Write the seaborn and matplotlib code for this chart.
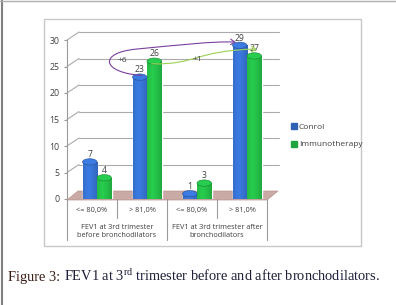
import numpy as np
import pandas as pd
import matplotlib
matplotlib.use("Agg")
import matplotlib.pyplot as plt
import seaborn as sns
from matplotlib.patches import Rectangle, Polygon, FancyArrowPatch, Ellipse
from matplotlib.path import Path
from matplotlib.lines import Line2D
import matplotlib.transforms as mtransforms

# ---- data ----
categories = ["<= 80,0%", "> 81,0%", "<= 80,0%_", "> 81,0%_"]
cat_labels = ["<= 80,0%", "> 81,0%", "<= 80,0%", "> 81,0%"]
group_labels = ["FEV1 at 3rd trimester\nbefore bronchodilators",
                "FEV1 at 3rd trimester after\nbronchodilators"]
series_names = ["Conrol", "Immunotherapy"]
control = [7, 23, 1, 29]
immuno = [4, 26, 3, 27]
yticks = [0, 5, 10, 15, 20, 25, 30]

sns.set_theme(style="white")
plt.rcParams["font.family"] = ["Open Sans", "DejaVu Sans"]
plt.rcParams["mathtext.fontset"] = "custom"
plt.rcParams["mathtext.rm"] = "Liberation Serif"

df = pd.DataFrame({
    "cat": categories * 2,
    "series": [series_names[0]] * 4 + [series_names[1]] * 4,
    "value": control + immuno,
})

W, H = 396, 305
fig = plt.figure(figsize=(W / 100, H / 100), dpi=100)

# outer page frame
fig.add_artist(Line2D([1.5 / W, 1.5 / W], [0, 1], color="#808080", lw=1.5, transform=fig.transFigure))
fig.add_artist(Line2D([0, 1], [1 - 0.8 / H, 1 - 0.8 / H], color="#b0b0b0", lw=1, transform=fig.transFigure))

# chart box
fig.add_artist(Rectangle((44 / W, 1 - 246 / H), 317 / W, 227 / H, transform=fig.transFigure,
                         facecolor="white", edgecolor="#c8c8c8", lw=1, zorder=0))

ax = fig.add_axes([67 / W, 1 - 199 / H, 200 / W, 159 / H])
ax.set_facecolor("none")

blue = "#2f62b5"
green = "#1fa43e"
sns.barplot(data=df, x="cat", y="value", hue="series", order=categories,
            hue_order=series_names, palette=[blue, green], width=0.58,
            dodge=True, gap=0.0, ax=ax, legend=False, saturation=1, zorder=3)

XL = (-0.6, 3.4)
ax.set_xlim(*XL)
ax.set_ylim(0, 30)
ax.set_xlabel("")
ax.set_ylabel("")
for s in ["top", "right", "bottom"]:
    ax.spines[s].set_visible(False)
ax.spines["left"].set_color("#9a9a9a")
ax.spines["left"].set_linewidth(0.8)
ax.set_xticks([])
ax.set_yticks(yticks)
ax.tick_params(axis="y", length=2.5, width=0.8, color="#9a9a9a", pad=3,
               labelsize=6.3, labelcolor="#404040", left=True)

# back wall grid (3D offset)
off = mtransforms.ScaledTranslation(12 / 100, 8 / 100, fig.dpi_scale_trans)
inv = ax.transData.inverted()
for v in yticks[1:]:
    ax.plot(list(XL), [v, v], color="#ababab", lw=0.8, transform=ax.transData + off,
            clip_on=False, zorder=1)
    p0 = ax.transData.transform((XL[0], v))
    p1 = p0 + np.array([12, 8])
    q0, q1 = inv.transform(p0), inv.transform(p1)
    ax.plot([q0[0], q1[0]], [q0[1], q1[1]], color="#ababab", lw=0.8, clip_on=False, zorder=1)

# floor
pts = [ax.transData.transform(p) for p in [(XL[0], 0), (XL[1], 0)]]
back = [inv.transform(p + np.array([11, 8])) for p in pts[::-1]]
front = [inv.transform(p + np.array([0, -1])) for p in pts]
floor = Polygon(list(front) + list(back), closed=True, facecolor="#c9aaa5", edgecolor="#b8948f",
                lw=0.5, clip_on=False, zorder=2)
ax.add_patch(floor)

# cylinder shading on bars
for patch in list(ax.patches):
    if not isinstance(patch, Rectangle) or patch.get_height() == 0:
        continue
    fc = patch.get_facecolor()
    x0, y0 = patch.get_x(), patch.get_y()
    w, h = patch.get_width(), patch.get_height()
    base = np.array(fc[:3])
    grad = np.linspace(0, 1, 32)
    shade = 1 - 0.55 * np.abs(grad - 0.38) ** 1.2
    light = np.clip(base[None, :] * (0.55 + 0.7 * shade[:, None]), 0, 1)
    im = ax.imshow(light[None, :, :], extent=[x0, x0 + w, y0, y0 + h], aspect="auto",
                   zorder=3.5, interpolation="bilinear")
    im.set_clip_path(patch)
    ell = Ellipse((x0 + w / 2, y0 + h), w, 1.2, facecolor=np.clip(base * 1.25, 0, 1),
                  edgecolor=np.clip(base * 0.8, 0, 1), lw=0.4, zorder=3.6)
    ax.add_patch(ell)
ax.set_xlim(*XL)
ax.set_ylim(0, 30)

# value labels
for cont in ax.containers:
    ax.bar_label(cont, padding=2, fontsize=6.2, color="#404040")

# x category table
lc = "#9a9a9a"
for xf, yb in [(0.0, -0.26), (0.5, -0.26), (1.0, -0.26), (0.25, -0.12), (0.75, -0.12)]:
    ax.plot([xf, xf], [0, yb], transform=ax.transAxes, color=lc, lw=0.8, clip_on=False)
for i, lab in enumerate(cat_labels):
    ax.text((i + 0.5) / 4, -0.075, lab, transform=ax.transAxes, ha="center", va="center",
            fontsize=5.3, color="#404040")
for g, lab in enumerate(group_labels):
    ax.text((g + 0.5) / 2, -0.205, lab, transform=ax.transAxes, ha="center", va="center",
            fontsize=5.3, color="#404040", linespacing=1.35)

# legend
handles = [Line2D([], [], marker="s", ls="", markersize=4, markerfacecolor=c,
                  markeredgecolor=c) for c in [blue, green]]
fig.legend(handles, series_names, loc="upper left", bbox_to_anchor=(287 / W, 1 - 119 / H),
           frameon=False, fontsize=6, handlelength=0.6, handletextpad=0.3,
           labelspacing=1.15, borderpad=0, labelcolor="#404040")

# annotations: +6 and +1 arrows
bw = 0.58 / 2
xc = [i - bw / 2 for i in range(4)]
xi = [i + bw / 2 for i in range(4)]
p0 = (xc[1] + 0.05, control[1] + 0.3)
p3 = (xc[3] - 0.08, control[3] + 0.6)
verts = [p0, (0.1, 23.8), (0.0, 27.6), (0.8, 28.3),
         (1.6, 29.0), (2.3, 29.8), p3]
codes = [Path.MOVETO] + [Path.CURVE4] * 6
arr1 = FancyArrowPatch(path=Path(verts, codes), arrowstyle="->,head_length=3,head_width=2",
                       color="#7a3fa0", lw=0.8, zorder=5, clip_on=False)
ax.add_patch(arr1)
ax.text(0.5, 26.1, "+6", fontsize=6, color="#404040", ha="center", va="center", zorder=6)

q0 = (xi[1] - 0.05, immuno[1] - 0.5)
q3 = (xi[3] + 0.05, immuno[3] + 1.3)
verts2 = [q0, (2.0, 25.3), (1.95, 28.0), q3]
codes2 = [Path.MOVETO, Path.CURVE4, Path.CURVE4, Path.CURVE4]
arr2 = FancyArrowPatch(path=Path(verts2, codes2), arrowstyle="->,head_length=3,head_width=2",
                       color="#9bd155", lw=0.8, zorder=5, clip_on=False)
ax.add_patch(arr2)
ax.text(2.0, 26.4, "+1", fontsize=6, color="#404040", ha="center", va="center", zorder=6)

# caption
cap_y = 1 - 281 / H
t1 = fig.text(8 / W, cap_y, "Figure 3: ", fontsize=10.4, family="Liberation Serif",
              color="#3a1e16", va="baseline")
fig.canvas.draw()
bb = t1.get_window_extent(renderer=fig.canvas.get_renderer())
fig.text(bb.x1 / W, cap_y, "FEV1 at 3$^{\\mathrm{rd}}$ trimester before and after bronchodilators.",
         fontsize=10.4, family="Liberation Serif", color="#1e1e38", va="baseline", ha="left")

fig.savefig("out.png", dpi=100)
